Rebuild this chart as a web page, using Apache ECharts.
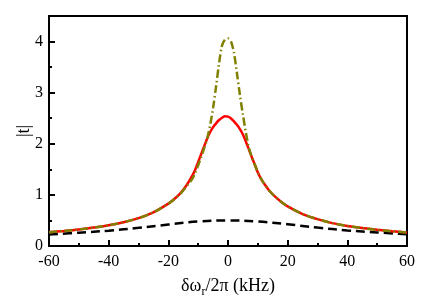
<!DOCTYPE html>
<html>
<head>
<meta charset="utf-8">
<script src="https://cdn.jsdelivr.net/npm/echarts@6/dist/echarts.min.js"></script>
<style>
html,body{margin:0;padding:0;background:#fff;}
#chart{width:436px;height:308px;}
</style>
</head>
<body>
<div id="chart"></div>
<script>
// Detuning grid (kHz) for the red and olive curves
const xValues = [-60,-55,-50,-45,-40,-35,-30,-25,-20,-18,-16,-14,-12,-11,-10,-9,-8,-7,-6,-5,-4,-3,-2,-1,0,1,2,3,4,5,6,7,8,9,10,11,12,14,16,18,20,25,30,35,40,45,50,55,60];
// Red solid curve |t|
const redValues = [0.269,0.294,0.323,0.36,0.406,0.465,0.545,0.658,0.83,0.92,1.03,1.18,1.37,1.49,1.645,1.795,1.95,2.10,2.225,2.325,2.40,2.465,2.51,2.538,2.53,2.495,2.44,2.37,2.285,2.18,2.04,1.89,1.735,1.59,1.44,1.325,1.23,1.07,0.955,0.855,0.775,0.625,0.525,0.447,0.393,0.35,0.316,0.288,0.263];
// Olive dash-dot curve |t|
const oliveValues = [0.269,0.294,0.323,0.36,0.406,0.465,0.545,0.658,0.83,0.915,1.02,1.16,1.31,1.43,1.58,1.74,1.91,2.10,2.36,2.70,3.12,3.57,3.92,4.04,4.06,4.00,3.78,3.38,2.95,2.57,2.22,1.92,1.735,1.59,1.44,1.325,1.23,1.07,0.955,0.855,0.775,0.625,0.525,0.447,0.393,0.35,0.316,0.288,0.263];
// Black dashed curve
const blackX = [-60,-50,-40,-30,-20,-10,0,10,20,30,40,50,60];
const blackValues = [0.225,0.26,0.30,0.355,0.42,0.48,0.50,0.48,0.425,0.36,0.305,0.265,0.23];
// Axis ticks
const xTicks = [-60,-40,-20,0,20,40,60];
const yTicks = [0,1,2,3,4];

const FONT = "'Liberation Serif','Times New Roman',serif";
const pair = (xs, ys) => xs.map((x, i) => [x, ys[i]]);

const chart = echarts.init(document.getElementById('chart'), null, {renderer: 'canvas'});
chart.setOption({
  animation: false,
  backgroundColor: '#fff',
  grid: {left: 49, right: 29, top: 16, bottom: 62, show: true, borderColor: '#000', borderWidth: 2, backgroundColor: 'transparent'},
  xAxis: {
    type: 'value', min: xTicks[0], max: xTicks[xTicks.length - 1], interval: 20,
    name: '{a|δω}{s|r}{a|/2π (kHz)}', nameLocation: 'middle', nameGap: 31,
    nameTextStyle: {
      rich: {
        a: {fontFamily: FONT, fontSize: 18, color: '#000', verticalAlign: 'top', lineHeight: 20},
        s: {fontFamily: FONT, fontSize: 12, color: '#000', verticalAlign: 'top', padding: [9, 0, 0, 0], lineHeight: 12}
      }
    },
    axisLine: {onZero: false, lineStyle: {color: '#000', width: 2}},
    axisTick: {inside: true, length: 6, lineStyle: {color: '#000', width: 2}},
    minorTick: {show: true, splitNumber: 2, length: 3, lineStyle: {color: '#000', width: 2}},
    axisLabel: {fontFamily: FONT, fontSize: 16, color: '#000', margin: 8},
    splitLine: {show: false}
  },
  yAxis: [{
    type: 'value', min: 0, max: 4.5, interval: 1,
    name: '|t|', nameLocation: 'middle', nameGap: 16, nameMoveOverlap: false,
    nameTextStyle: {fontFamily: FONT, fontSize: 18, color: '#000'},
    axisLine: {onZero: false, lineStyle: {color: '#000', width: 2}},
    axisTick: {inside: true, length: 6, lineStyle: {color: '#000', width: 2}},
    axisLabel: {fontFamily: FONT, fontSize: 16, color: '#000', margin: 6,
      formatter: v => (yTicks.indexOf(v) >= 0 ? String(v) : '')},
    splitLine: {show: false}
  }, {
    type: 'value', min: 0, max: 4.5, interval: 0.5, position: 'left',
    axisLine: {show: false, onZero: false},
    axisTick: {inside: true, length: 3, lineStyle: {color: '#000', width: 2}},
    axisLabel: {show: false},
    splitLine: {show: false}
  }],
  series: [
    {type: 'line', data: pair(blackX, blackValues), showSymbol: false, smooth: 0.4, z: 2,
      lineStyle: {color: '#000', width: 2.5, type: [9, 5]}},
    {type: 'line', data: pair(xValues, redValues), showSymbol: false, smooth: 0.3, z: 3,
      lineStyle: {color: '#ff0000', width: 2.5}},
    {type: 'line', data: pair(xValues, oliveValues), showSymbol: false, smooth: 0.3, z: 4,
      lineStyle: {color: '#808000', width: 2.5, type: [8, 3, 1.5, 3]}}
  ]
});
</script>
</body>
</html>
